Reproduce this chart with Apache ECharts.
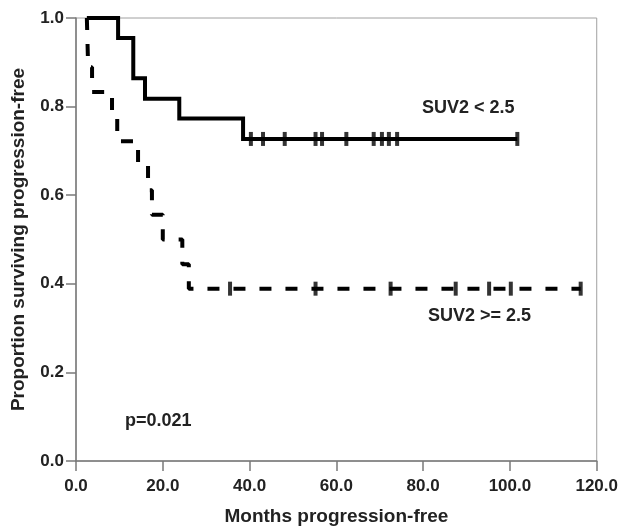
<!DOCTYPE html>
<html lang="en">
<head>
    <meta charset="UTF-8">
    <title>Progression-free survival</title>
    <style>
        *{ margin: 0; padding: 0;}
        body{ background: #fff;}
        #chart{ width: 621px; height: 531px;}
    </style>
    <script src="https://cdn.jsdelivr.net/npm/echarts@6/dist/echarts.min.js"></script>
</head>
<body>
    <div id="chart"></div>
    <script>
        // SUV2 < 2.5 : step points (time, survival) and censor times
        var lowTimes = [2.5, 9.7, 13.2, 15.9, 23.8, 38.5, 101.7];
        var lowSurv = [1.0, 0.955, 0.864, 0.818, 0.773, 0.727, 0.727];
        var lowCensor = [40.3, 43.1, 48.1, 55.2, 56.7, 62.3, 68.6, 70.5, 72.1, 74.0, 101.7];

        // SUV2 >= 2.5
        var highTimes = [2.5, 2.8, 3.7, 8.3, 9.5, 14.3, 16.6, 17.5, 20.0, 24.5, 26.0, 116.3];
        var highSurv = [1.0, 0.889, 0.833, 0.778, 0.722, 0.667, 0.611, 0.556, 0.5, 0.444, 0.389, 0.389];
        var highCensor = [35.5, 55.2, 72.5, 87.5, 95.2, 100.2, 116.3];

        var xTicks = [0, 20, 40, 60, 80, 100, 120];
        var yTicks = [0, 0.2, 0.4, 0.6, 0.8, 1.0];

        function pairs(xs, ys) {
            return xs.map(function (x, i) { return [x, ys[i]]; });
        }
        function censorPts(xs, y) {
            return xs.map(function (x) { return [x, y]; });
        }

        var font = "'Liberation Sans', Arial, sans-serif";
        var axisGray = "#7a7a7a";
        var txt = "#222";

        var chart = echarts.init(document.getElementById("chart"));
        chart.setOption({
            animation: false,
            grid: {
                left: 76, right: 24, top: 18, bottom: 70,
                show: true, borderColor: "#a0a0a0", borderWidth: 1
            },
            xAxis: {
                type: "value",
                min: xTicks[0], max: xTicks[xTicks.length - 1], interval: 20,
                name: "Months progression-free",
                nameLocation: "middle", nameGap: 46,
                nameTextStyle: { fontFamily: font, fontWeight: "bold", fontSize: 19, color: txt },
                axisLine: { lineStyle: { color: axisGray, width: 1.5 } },
                axisTick: { show: true, inside: false, length: 10, lineStyle: { color: axisGray, width: 1.5 } },
                axisLabel: {
                    margin: 17, fontFamily: font, fontWeight: "bold", fontSize: 17, color: txt,
                    formatter: function (v) { return v.toFixed(1); }
                },
                splitLine: { show: false }
            },
            yAxis: {
                type: "value",
                min: yTicks[0], max: yTicks[yTicks.length - 1], interval: 0.2,
                name: "Proportion surviving progression-free",
                nameLocation: "middle", nameGap: 48,
                nameTextStyle: { fontFamily: font, fontWeight: "bold", fontSize: 19, color: txt },
                axisLine: { show: true, lineStyle: { color: axisGray, width: 1.5 } },
                axisTick: { show: true, inside: false, length: 10, lineStyle: { color: axisGray, width: 1.5 } },
                axisLabel: {
                    margin: 12, fontFamily: font, fontWeight: "bold", fontSize: 17, color: txt,
                    formatter: function (v) { return v.toFixed(1); }
                },
                splitLine: { show: false }
            },
            series: [
                {
                    name: "SUV2 < 2.5", type: "line", step: "end",
                    data: pairs(lowTimes, lowSurv),
                    showSymbol: false, symbol: "none",
                    lineStyle: { color: "#000", width: 4, cap: "butt", join: "miter" },
                    z: 3
                },
                {
                    name: "SUV2 >= 2.5", type: "line", step: "end",
                    data: pairs(highTimes, highSurv),
                    showSymbol: false, symbol: "none",
                    lineStyle: { color: "#000", width: 4, type: [12, 14], dashOffset: 0, cap: "butt" },
                    z: 3
                },
                {
                    type: "scatter", data: censorPts(lowCensor, lowSurv[lowSurv.length - 1]),
                    symbol: "rect", symbolSize: [4, 14],
                    itemStyle: { color: "#000" }, z: 4
                },
                {
                    type: "scatter", data: censorPts(highCensor, highSurv[highSurv.length - 1]),
                    symbol: "rect", symbolSize: [4, 14],
                    itemStyle: { color: "#000" }, z: 4
                }
            ],
            graphic: [
                {
                    type: "text", left: 422, top: 99,
                    style: { text: "SUV2 < 2.5", font: "bold 18px " + font, fill: txt }
                },
                {
                    type: "text", left: 428, top: 307,
                    style: { text: "SUV2 >= 2.5", font: "bold 18px " + font, fill: txt }
                },
                {
                    type: "text", left: 125, top: 412,
                    style: { text: "p=0.021", font: "bold 18px " + font, fill: txt }
                }
            ]
        });
    </script>
</body>
</html>
